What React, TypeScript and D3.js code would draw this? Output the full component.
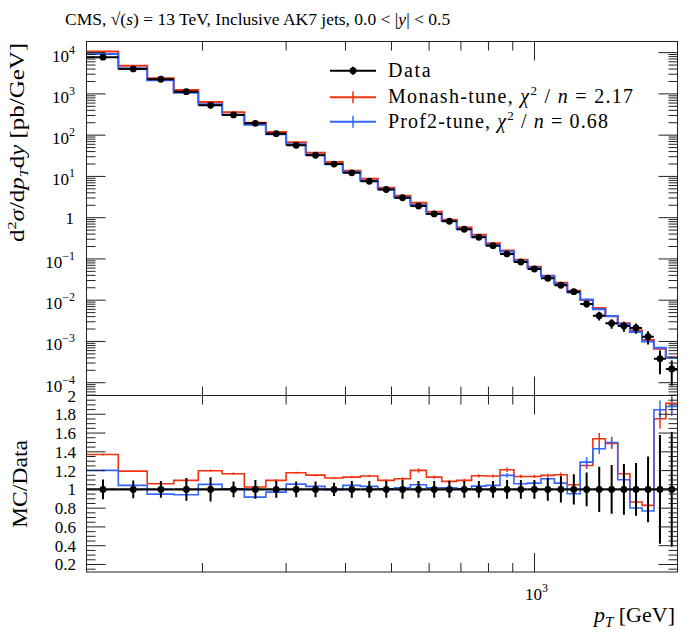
import React from 'react';
import * as d3 from 'd3';

// ---------------- data ----------------
const binEdges = [114, 133, 153, 174, 196, 220, 245, 272, 300, 330, 362, 395, 430, 468, 507, 548, 592, 638, 686, 737, 790, 846, 905, 967, 1032, 1101, 1172, 1248, 1327, 1410, 1497, 1588, 1684, 1784, 1890, 2000];

const dataValues = [7745, 4027, 2265, 1135, 531, 309, 194, 108.6, 56.9, 32.6, 19.9, 12.2, 7.64, 4.82, 3.04, 1.92, 1.23, 0.818, 0.524, 0.335, 0.209, 0.132, 0.0843, 0.057, 0.034, 0.023, 0.0161, 0.00809, 0.00421, 0.00275, 0.00237, 0.00212, 0.0013, 0.000382, 0.000215];
const dataRelErr = [0.105, 0.095, 0.09, 0.12, 0.13, 0.085, 0.1, 0.09, 0.085, 0.085, 0.07, 0.09, 0.09, 0.09, 0.1, 0.09, 0.09, 0.09, 0.09, 0.09, 0.09, 0.1, 0.1, 0.1, 0.12, 0.14, 0.16, 0.18, 0.24, 0.26, 0.27, 0.28, 0.35, 0.58, 0.61];

const monashRatio = [1.372, 1.195, 1.06, 1.096, 1.199, 1.167, 1.025, 1.096, 1.177, 1.152, 1.121, 1.131, 1.142, 1.096, 1.113, 1.202, 1.131, 1.085, 1.096, 1.145, 1.142, 1.209, 1.138, 1.138, 1.149, 1.156, 1.05, 1.255, 1.539, 1.49, 1.167, 0.865, 0.83, 1.752, 1.918];
const monashRelErr = [0.008, 0.008, 0.008, 0.008, 0.01, 0.01, 0.01, 0.01, 0.01, 0.01, 0.01, 0.012, 0.012, 0.012, 0.015, 0.02, 0.015, 0.015, 0.015, 0.015, 0.015, 0.02, 0.015, 0.015, 0.015, 0.02, 0.02, 0.03, 0.04, 0.04, 0.035, 0.035, 0.035, 0.06, 0.05];

const prof2Ratio = [1.202, 1.043, 0.95, 0.943, 1.053, 1.007, 0.918, 0.971, 1.056, 1.032, 0.997, 1.043, 1.032, 1.007, 1.018, 1.05, 1.018, 1.018, 1.007, 1.035, 1.043, 1.149, 1.06, 1.067, 1.113, 1.067, 0.954, 1.29, 1.433, 1.5, 1.103, 0.801, 0.769, 1.848, 1.883];
const prof2RelErr = [0.008, 0.008, 0.008, 0.008, 0.01, 0.01, 0.01, 0.01, 0.01, 0.01, 0.01, 0.012, 0.012, 0.012, 0.015, 0.015, 0.015, 0.015, 0.015, 0.015, 0.015, 0.02, 0.015, 0.015, 0.015, 0.02, 0.02, 0.04, 0.04, 0.04, 0.035, 0.035, 0.035, 0.054, 0.053];

const mainYExponents = [-4, -3, -2, -1, 0, 1, 2, 3, 4];
const ratioMajorTicks = [0.2, 0.4, 0.6, 0.8, 1, 1.2, 1.4, 1.6, 1.8, 2];
const ratioTickLabels = ['0.2', '0.4', '0.6', '0.8', '1', '1.2', '1.4', '1.6', '1.8', '2'];
const xMajorTicks = [1000];
const xMinorTicks = [200, 300, 400, 500, 600, 700, 800, 900];

const legendNames = ['Data', 'Monash-tune, ', 'Prof2-tune, '];
const legendChi2 = ['', '2.17', '0.68'];

// ---------------- layout ----------------
const W = 700, H = 632;
const L = 86.5, R = 677.5, T = 41.5, MB = 395.5, RB = 572;
const RED = '#ee3311';
const BLUE = '#3366ff';
const FONT = '"Liberation Serif", "Times New Roman", serif';
const AX = '#222';

export default function App() {
  const n = dataValues.length;
  const x = d3.scaleLog().domain([binEdges[0], binEdges[n]]).range([L, R]);
  const yMain = d3.scaleLog().domain([Math.pow(10, -4.31), Math.pow(10, 4.27)]).range([MB, T]);
  const yRatio = d3.scaleLinear().domain([0.12, 2]).range([RB, MB]);
  const centers = binEdges.slice(0, -1).map((e, i) => (e + binEdges[i + 1]) / 2);

  const monashVals = dataValues.map((v, i) => v * monashRatio[i]);
  const prof2Vals = dataValues.map((v, i) => v * prof2Ratio[i]);

  const stepPts = (vals: number[]): [number, number][] => [
    ...vals.map((v, i) => [binEdges[i], v] as [number, number]),
    [binEdges[n], vals[n - 1]],
  ];
  const lineMain = d3.line<[number, number]>().x(d => x(d[0])).y(d => yMain(d[1])).curve(d3.curveStepAfter);
  const lineRatio = d3.line<[number, number]>().x(d => x(d[0])).y(d => yRatio(d[1])).curve(d3.curveStepAfter);

  const mainMinor: number[] = [];
  for (let k = -5; k <= 4; k++) for (let m = 2; m <= 9; m++) {
    const v = m * Math.pow(10, k);
    const [d0, d1] = yMain.domain();
    if (v > d0 && v < d1) mainMinor.push(v);
  }
  const ratioMinor: number[] = [];
  for (let i = 3; i <= 39; i++) {
    const v = i * 0.05;
    if (Math.abs(v / 0.2 - Math.round(v / 0.2)) > 1e-6) ratioMinor.push(v);
  }

  const MAJ = 19, MIN = 9;

  const mcMain = (vals: number[], err: number[], color: string) => (
    <g>
      <path d={lineMain(stepPts(vals)) || ''} fill="none" stroke={color} strokeWidth={2} />
      {centers.map((c, i) => (
        <line key={i} x1={x(c)} x2={x(c)} y1={yMain(vals[i] * (1 - err[i]))} y2={yMain(vals[i] * (1 + err[i]))} stroke={color} strokeWidth={1.5} />
      ))}
    </g>
  );
  const mcRatio = (ratio: number[], err: number[], color: string) => (
    <g>
      <path d={lineRatio(stepPts(ratio)) || ''} fill="none" stroke={color} strokeWidth={1.6} />
      {centers.map((c, i) => (
        <line key={i} x1={x(c)} x2={x(c)} y1={yRatio(ratio[i] * (1 - err[i]))} y2={yRatio(ratio[i] * (1 + err[i]))} stroke={color} strokeWidth={1.5} />
      ))}
    </g>
  );

  const legendWidths = [42.7, 245, 220];

  return (
    <svg width={W} height={H} style={{ position: 'absolute', left: 0, top: 0, background: '#fff' }} fontFamily={FONT}>
      <defs>
        <clipPath id="clipMain"><rect x={L} y={T} width={R - L} height={MB - T} /></clipPath>
        <clipPath id="clipRatio"><rect x={L} y={MB} width={R - L} height={RB - MB} /></clipPath>
      </defs>
      <rect x={0} y={0} width={W} height={H} fill="#fff" />

      {/* title */}
      <text x={65} y={25} fontSize={17.5} fill="#000">
        CMS, √(<tspan fontStyle="italic">s</tspan>) = 13 TeV, Inclusive AK7 jets, 0.0 &lt; |<tspan fontStyle="italic">y</tspan>| &lt; 0.5
      </text>

      {/* main panel content */}
      <g clipPath="url(#clipMain)">
        {mcMain(monashVals, monashRelErr, RED)}
        {mcMain(prof2Vals, prof2RelErr, BLUE)}
        {centers.map((c, i) => (
          <g key={i}>
            <line x1={x(binEdges[i])} x2={x(binEdges[i + 1])} y1={yMain(dataValues[i])} y2={yMain(dataValues[i])} stroke="#000" strokeWidth={2} />
            <line x1={x(c)} x2={x(c)} y1={yMain(dataValues[i] * (1 - dataRelErr[i]))} y2={yMain(dataValues[i] * (1 + dataRelErr[i]))} stroke="#000" strokeWidth={2} />
            <circle cx={x(c)} cy={yMain(dataValues[i])} r={3.4} fill="#000" />
          </g>
        ))}
      </g>

      {/* ratio panel content */}
      <g clipPath="url(#clipRatio)">
        {mcRatio(monashRatio, monashRelErr, RED)}
        {mcRatio(prof2Ratio, prof2RelErr, BLUE)}
        {centers.map((c, i) => (
          <g key={i}>
            <line x1={x(binEdges[i])} x2={x(binEdges[i + 1])} y1={yRatio(1)} y2={yRatio(1)} stroke="#000" strokeWidth={2.2} />
            <line x1={x(c)} x2={x(c)} y1={yRatio(1 - dataRelErr[i])} y2={yRatio(1 + dataRelErr[i])} stroke="#000" strokeWidth={2} />
            <circle cx={x(c)} cy={yRatio(1)} r={3.4} fill="#000" />
          </g>
        ))}
      </g>

      {/* frames */}
      <rect x={L} y={T} width={R - L} height={MB - T} fill="none" stroke={AX} strokeWidth={1} />
      <rect x={L} y={MB} width={R - L} height={RB - MB} fill="none" stroke={AX} strokeWidth={1} />

      {/* main y ticks */}
      {mainYExponents.map(k => {
        const ty = yMain(Math.pow(10, k));
        return (
          <g key={'my' + k}>
            <line x1={L} x2={L + MAJ} y1={ty} y2={ty} stroke={AX} />
            <line x1={R} x2={R - MAJ} y1={ty} y2={ty} stroke={AX} />
            {k === 0 ? (
              <text x={74} y={ty + 6} textAnchor="end" fontSize={17}>1</text>
            ) : (
              <text x={75} y={ty + 9} textAnchor="end" fontSize={17}>
                10<tspan dy={-8} fontSize={12}>{k < 0 ? '−' + Math.abs(k) : String(k)}</tspan>
              </text>
            )}
          </g>
        );
      })}
      {mainMinor.map((v, i) => (
        <g key={'mm' + i}>
          <line x1={L} x2={L + MIN} y1={yMain(v)} y2={yMain(v)} stroke={AX} />
          <line x1={R} x2={R - MIN} y1={yMain(v)} y2={yMain(v)} stroke={AX} />
        </g>
      ))}

      {/* ratio y ticks */}
      {ratioMajorTicks.map((v, i) => (
        <g key={'ry' + i}>
          <line x1={L} x2={L + MAJ} y1={yRatio(v)} y2={yRatio(v)} stroke={AX} />
          <line x1={R} x2={R - MAJ} y1={yRatio(v)} y2={yRatio(v)} stroke={AX} />
          <text x={76} y={yRatio(v) + 6} textAnchor="end" fontSize={17}>{ratioTickLabels[i]}</text>
        </g>
      ))}
      {ratioMinor.map((v, i) => (
        <g key={'rm' + i}>
          <line x1={L} x2={L + MIN} y1={yRatio(v)} y2={yRatio(v)} stroke={AX} />
          <line x1={R} x2={R - MIN} y1={yRatio(v)} y2={yRatio(v)} stroke={AX} />
        </g>
      ))}

      {/* x ticks on both panels */}
      {[[T, MB], [MB, RB]].map(([top, bot], p) => (
        <g key={'xp' + p}>
          {xMajorTicks.map(v => (
            <g key={v}>
              <line x1={x(v)} x2={x(v)} y1={top} y2={top + MAJ} stroke={AX} />
              <line x1={x(v)} x2={x(v)} y1={bot} y2={bot - MAJ} stroke={AX} />
            </g>
          ))}
          {xMinorTicks.map(v => (
            <g key={v}>
              <line x1={x(v)} x2={x(v)} y1={top} y2={top + MIN} stroke={AX} />
              <line x1={x(v)} x2={x(v)} y1={bot} y2={bot - MIN} stroke={AX} />
            </g>
          ))}
        </g>
      ))}
      {xMajorTicks.map(v => (
        <text key={'xl' + v} x={x(v) + 2} y={600} textAnchor="middle" fontSize={17}>
          10<tspan dy={-8} fontSize={12}>3</tspan>
        </text>
      ))}

      {/* axis titles */}
      <text transform="translate(24,142.5) rotate(-90)" textAnchor="middle" fontSize={20} textLength={199} lengthAdjust="spacingAndGlyphs">
        d<tspan dy={-8} fontSize={13}>2</tspan><tspan dy={8} fontStyle="italic">σ</tspan>/d<tspan fontStyle="italic">p</tspan><tspan dy={4} fontSize={13} fontStyle="italic">T</tspan><tspan dy={-4}>d</tspan><tspan fontStyle="italic">y</tspan> [pb/GeV]
      </text>
      <text transform="translate(27,484) rotate(-90)" textAnchor="middle" fontSize={20} textLength={88} lengthAdjust="spacingAndGlyphs">MC/Data</text>
      <text x={675} y={622} textAnchor="end" fontSize={22}>
        <tspan fontStyle="italic">p</tspan><tspan dy={5} fontSize={15} fontStyle="italic">T</tspan><tspan dy={-5}> [GeV]</tspan>
      </text>

      {/* legend */}
      {legendNames.map((name, i) => {
        const ly = [70.7, 97.3, 121.7][i];
        const col = i === 0 ? '#000' : i === 1 ? RED : BLUE;
        return (
          <g key={'lg' + i}>
            <line x1={330} x2={376} y1={ly} y2={ly} stroke={col} strokeWidth={2} />
            <line x1={353} x2={353} y1={ly - (i === 0 ? 4 : 6)} y2={ly + (i === 0 ? 4 : 6)} stroke={col} strokeWidth={i === 0 ? 2 : 1.5} />
            {i === 0 && <circle cx={353} cy={ly} r={3.4} fill="#000" />}
            <text x={388} y={ly + 6} fontSize={20} textLength={legendWidths[i]} lengthAdjust="spacing">
              {name}
              {i > 0 && (
                <>
                  <tspan fontStyle="italic">χ</tspan><tspan dy={-8} fontSize={13}>2</tspan><tspan dy={8}> / </tspan><tspan fontStyle="italic">n</tspan> = {legendChi2[i]}
                </>
              )}
            </text>
          </g>
        );
      })}
    </svg>
  );
}
